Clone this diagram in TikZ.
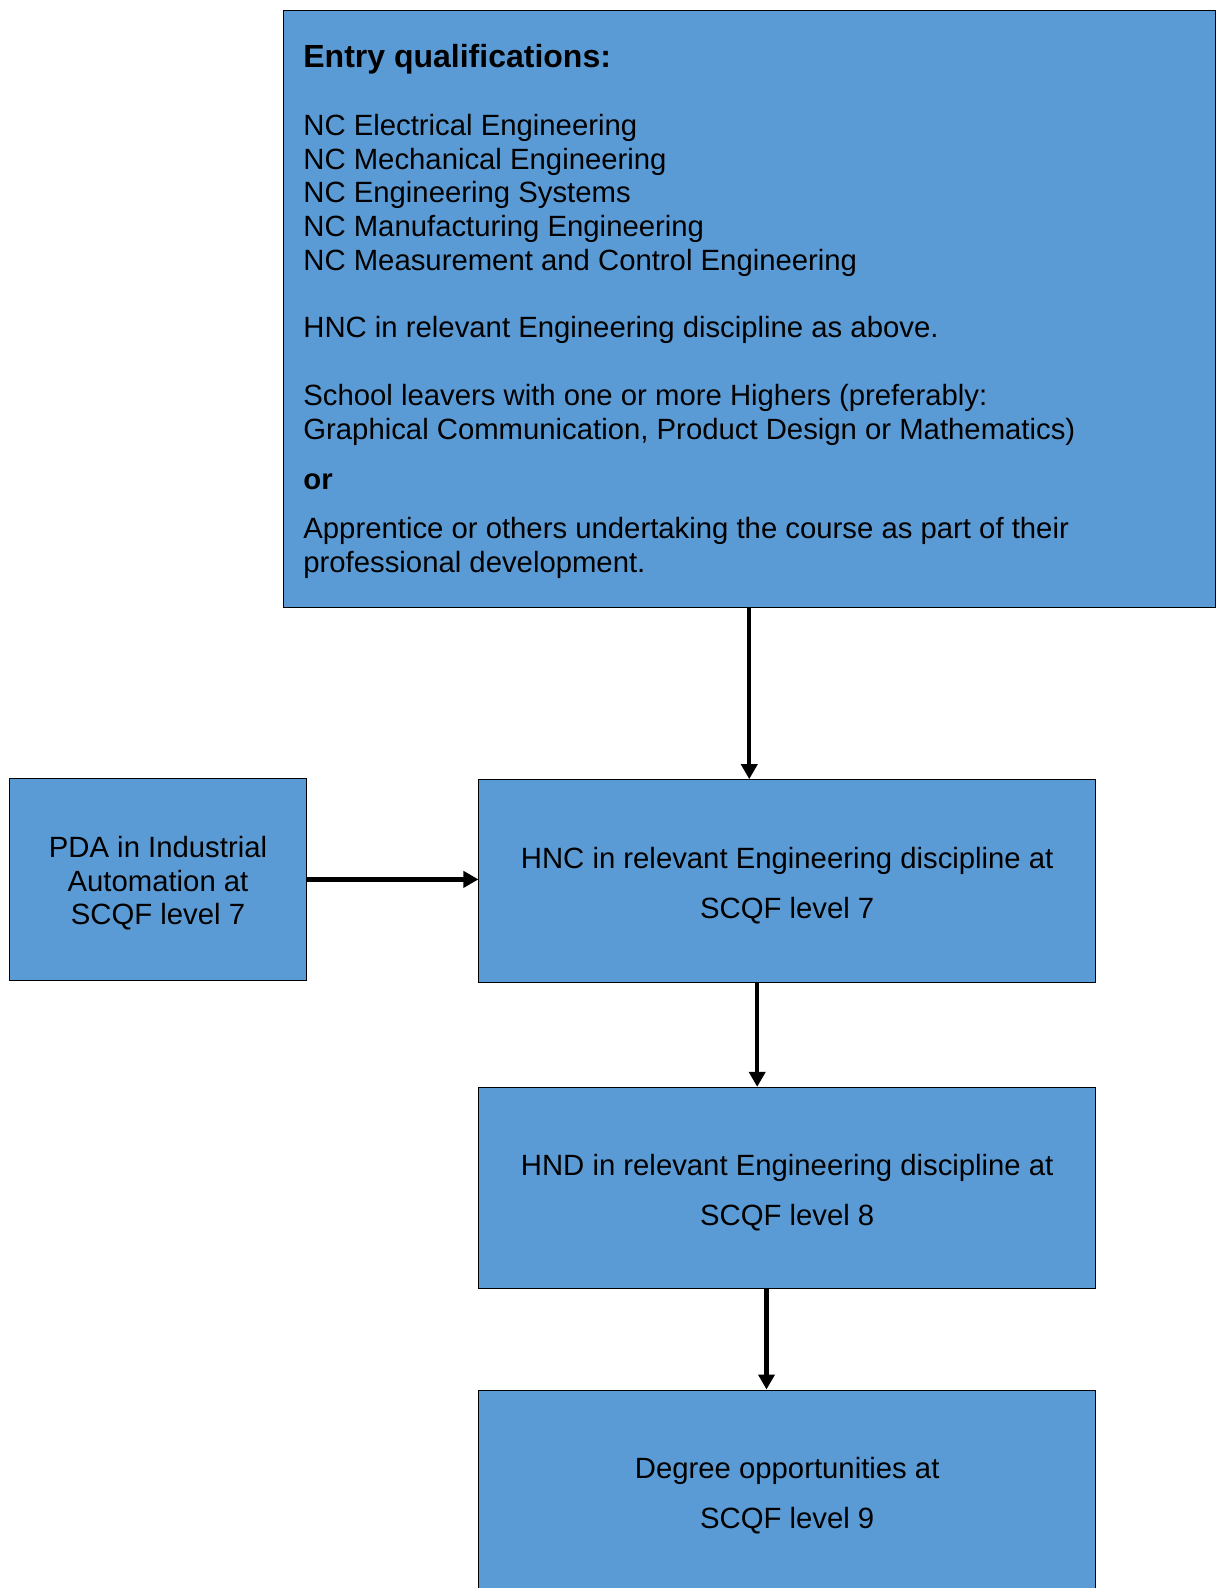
\documentclass[tikz,border=0pt]{standalone}
\usepackage{fontspec}
\setmainfont{Liberation Sans}
\usetikzlibrary{arrows.meta}
\definecolor{boxblue}{RGB}{91,155,213}
\tikzset{
  box/.style={rectangle, draw=black, fill=boxblue, line width=0.5pt, inner sep=0pt},
  flow/.style={-{Triangle[length=7.5pt, width=8pt]}, line width=2.2pt},
  body/.style={font=\fontsize{14.65}{16.8}\selectfont},
  wide/.style={font=\fontsize{14.65}{24.8}\selectfont},
  txt/.style={anchor=base west, inner sep=0pt, body},
  inbox/.style={inner sep=0pt, align=center},
}
\begin{document}
\begin{tikzpicture}[x=0.5pt, y=-0.5pt]
    \useasboundingbox[fill=white] (0, 0) rectangle (1215, 1588);

    % entry box
    \node[box, minimum width=466.25pt, minimum height=298.7pt] (entry) at (749.25, 308.8) {};
    \node[txt, font=\fontsize{16}{19}\selectfont\bfseries] (head) at (303, 67.5) {Entry qualifications:};
    \foreach \q [count=\i from 0] in {NC Electrical Engineering, NC Mechanical Engineering, NC Engineering Systems, NC Manufacturing Engineering, NC Measurement and Control Engineering}
        \node[txt] (nc\i) at (303, 135.3+33.8*\i) {\q};
    \node[txt] (hncabove) at (303, 337.5) {HNC in relevant Engineering discipline as above.};
    \node[txt] (school1) at (303, 405.3) {School leavers with one or more Highers (preferably:};
    \node[txt] (school2) at (303, 439) {Graphical Communication, Product Design or Mathematics)};
    \node[txt, font=\fontsize{14.65}{16.8}\selectfont\bfseries] (or) at (303, 489.4) {or};
    \node[txt] (apprentice1) at (303, 538.3) {Apprentice or others undertaking the course as part of their};
    \node[txt] (apprentice2) at (303, 572.2) {professional development.};

    % course boxes
    \node[box, minimum width=148.85pt, minimum height=100.75pt] (pda) at (158, 879.4) {};
    \node[box, minimum width=308.25pt, minimum height=101.25pt] (hnc) at (787.2, 880.9) {};
    \node[box, minimum width=308.25pt, minimum height=100.75pt] (hnd) at (787.2, 1188.1) {};
    \node[box, minimum width=308.25pt, minimum height=101pt] (degree) at (787.2, 1491) {};

    \node[inbox, body] (pdatext) at ([yshift=-2pt]pda.center) {PDA in Industrial\\Automation at\\SCQF level 7};
    \node[inbox, wide] (hnctext) at ([yshift=-2.3pt]hnc.center) {HNC in relevant Engineering discipline at\\SCQF level 7};
    \node[inbox, wide] (hndtext) at ([yshift=-2.3pt]hnd.center) {HND in relevant Engineering discipline at\\SCQF level 8};
    \node[inbox, wide] (degreetext) at ([yshift=-2.3pt]degree.center) {Degree opportunities at\\SCQF level 9};

    \draw[flow] (entry.south) -- (entry.south |- hnc.north);
    \draw[flow] (pda.east) -- (pda.east -| hnc.west);
    \draw[flow] ([xshift=-15pt]hnc.south) -- ([xshift=-15pt]hnc.south |- hnd.north);
    \draw[flow] ([xshift=-10.35pt]hnd.south) -- ([xshift=-10.35pt]hnd.south |- degree.north);
\end{tikzpicture}
\end{document}
